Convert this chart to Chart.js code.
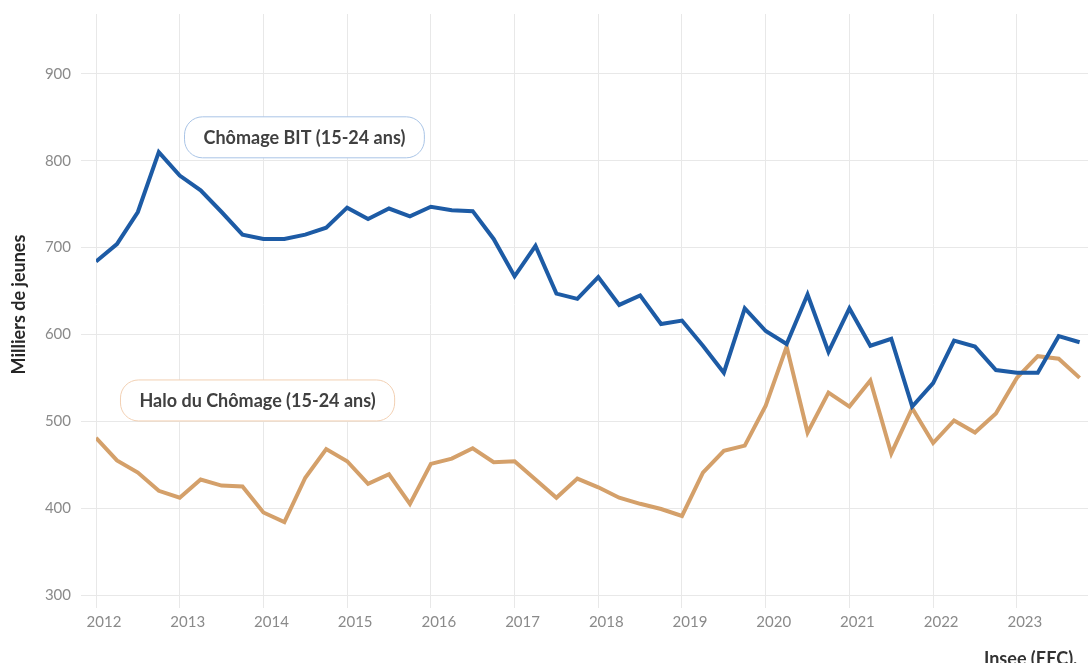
<!DOCTYPE html>
<html lang="fr">
<head>
<meta charset="utf-8">
<title>Chômage et halo du chômage des 15-24 ans</title>
<script src="https://cdn.jsdelivr.net/npm/chart.js@4"></script>
<style>
  html, body { margin: 0; padding: 0; background: #fff; }
  #wrap { position: relative; width: 1088px; height: 663px; }
</style>
</head>
<body>
<div id="wrap"><canvas id="chart"></canvas></div>
<script>
// Trimestres 2012-T1 .. 2023-T4
const years = [2012, 2013, 2014, 2015, 2016, 2017, 2018, 2019, 2020, 2021, 2022, 2023];
const quarters = [];
years.forEach(y => { for (let q = 1; q <= 4; q++) quarters.push({ year: y, q }); });

// Chômage BIT (15-24 ans), milliers
const chomageBIT = [
  684, 704, 741, 810, 783, 766, 741, 715, 710, 710, 715, 723,
  746, 733, 745, 736, 747, 743, 742, 710, 667, 702, 647, 641,
  666, 634, 645, 612, 616, 587, 556, 630, 604, 589, 646, 580,
  630, 587, 595, 517, 544, 593, 586, 559, 556, 556, 598, 591,
];

// Halo du chômage (15-24 ans), milliers
const haloChomage = [
  481, 455, 441, 420, 412, 433, 426, 425, 395, 384, 435, 468,
  454, 428, 439, 405, 451, 457, 469, 453, 454, 433, 412, 434,
  424, 412, 405, 399, 391, 441, 466, 472, 518, 586, 487, 533,
  517, 547, 463, 515, 475, 501, 487, 509, 550, 575, 572, 550,
];

const yTicks = [300, 400, 500, 600, 700, 800, 900];

const BLUE = '#1d5ba5';
const ORANGE = '#d4a06a';
const FONT = 'Lato, "Open Sans", Arial, sans-serif';

const toPoints = values => values.map((v, i) => ({ x: quarters[i].year + (quarters[i].q - 1) / 4, y: v }));

// Series labels drawn as rounded boxes, anchored in data coordinates
const seriesLabels = [
  { text: 'Chômage BIT (15-24 ans)', x: 2014.49, y: 827, border: '#a9c4e6' },
  { text: 'Halo du Chômage (15-24 ans)', x: 2013.93, y: 524, border: '#f2d0b3' },
];

const labelPlugin = {
  id: 'seriesLabels',
  afterDatasetsDraw(chart) {
    const { ctx, scales } = chart;
    ctx.save();
    ctx.font = 'bold 18px ' + FONT;
    ctx.textAlign = 'center';
    ctx.textBaseline = 'middle';
    for (const l of seriesLabels) {
      const cx = scales.x.getPixelForValue(l.x);
      const cy = scales.y.getPixelForValue(l.y);
      const w = ctx.measureText(l.text).width + 38;
      const h = 41;
      ctx.beginPath();
      ctx.roundRect(cx - w / 2, cy - h / 2, w, h, 18);
      ctx.fillStyle = '#fff';
      ctx.fill();
      ctx.lineWidth = 1;
      ctx.strokeStyle = l.border;
      ctx.stroke();
      ctx.fillStyle = '#404040';
      ctx.fillText(l.text, cx, cy + 1);
    }
    ctx.restore();
  },
  afterDraw(chart) {
    const ctx = chart.ctx;
    ctx.save();
    ctx.font = 'bold 18px ' + FONT;
    ctx.fillStyle = '#333';
    ctx.textAlign = 'left';
    ctx.textBaseline = 'top';
    ctx.fillText('Insee (EEC).', 984, 650);
    ctx.restore();
  },
};

new Chart(document.getElementById('chart'), {
  type: 'line',
  data: {
    datasets: [
      {
        label: 'Chômage BIT (15-24 ans)',
        data: toPoints(chomageBIT),
        borderColor: BLUE,
        borderWidth: 4,
        pointRadius: 0,
        tension: 0,
        fill: false,
      },
      {
        label: 'Halo du Chômage (15-24 ans)',
        data: toPoints(haloChomage),
        borderColor: ORANGE,
        borderWidth: 4,
        pointRadius: 0,
        tension: 0,
        fill: false,
      },
    ],
  },
  options: {
    responsive: true,
    maintainAspectRatio: false,
    animation: false,
    layout: { padding: { top: 14, right: 0, left: 0, bottom: 0 } },
    plugins: {
      legend: { display: false },
      tooltip: { enabled: false },
    },
    scales: {
      x: {
        type: 'linear',
        min: 2012,
        max: 2023.85,
        afterBuildTicks: scale => { scale.ticks = years.map(v => ({ value: v })); },
        afterFit: scale => { scale.height = 68; },
        ticks: {
          color: '#8a8a8a',
          font: { family: FONT, size: 15 },
          padding: 5,
          labelOffset: 8,
          maxRotation: 0,
          autoSkip: false,
          callback: v => String(v),
        },
        grid: { color: '#e8e8e8', tickLength: 13, drawTicks: true },
        border: { display: false },
      },
      y: {
        min: 300,
        max: 969,
        afterBuildTicks: scale => { scale.ticks = yTicks.map(v => ({ value: v })); },
        afterFit: scale => {
          scale.width = 96;
          scale.paddingTop = 0;
          scale.paddingBottom = 0;
        },
        ticks: {
          color: '#8a8a8a',
          font: { family: FONT, size: 15 },
          padding: 10,
        },
        grid: { color: '#e8e8e8', tickLength: 15, drawTicks: true },
        border: { display: false },
        title: {
          display: true,
          text: 'Milliers de jeunes',
          color: '#262626',
          font: { family: FONT, size: 18, weight: 'bold' },
          padding: { top: 8, bottom: 0 },
        },
      },
    },
  },
  plugins: [labelPlugin],
});
</script>
</body>
</html>
